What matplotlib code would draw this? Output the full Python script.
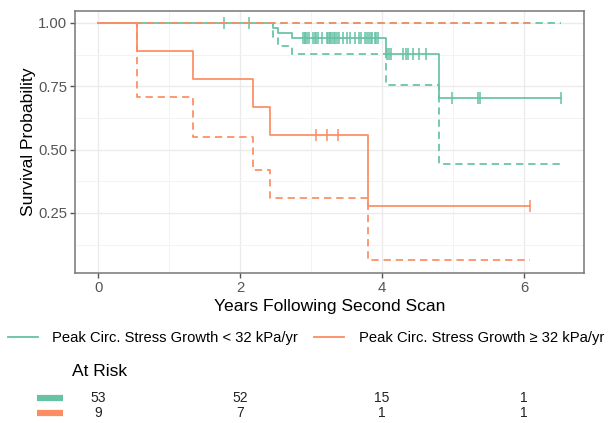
import numpy as np
import matplotlib
matplotlib.use("Agg")
import matplotlib.pyplot as plt
from matplotlib.lines import Line2D
from matplotlib.transforms import blended_transform_factory

plt.rcParams['font.family'] = ['Liberation Sans', 'DejaVu Sans']

# Kaplan-Meier curves (step starts, levels, 95% CI)
green_t = [0, 2.47, 2.53, 2.73, 4.05, 4.80]
green_s = [1.0, 0.980, 0.961, 0.941, 0.878, 0.703]
green_lo = [1.0, 0.943, 0.909, 0.879, 0.754, 0.442]
green_hi = [1.0, 1.0, 1.0, 1.0, 1.0, 1.0]
green_end = 6.52
green_cens = [1.78, 2.13,
              2.88, 2.91, 2.92, 2.94, 2.97, 3.03, 3.05, 3.07, 3.10, 3.15,
              3.22, 3.24, 3.26, 3.27, 3.29, 3.32, 3.34, 3.36, 3.40, 3.45,
              3.50, 3.55, 3.62, 3.67, 3.71, 3.76, 3.79, 3.81, 3.84, 3.86,
              3.90, 3.92, 3.94,
              4.07, 4.10, 4.13, 4.30, 4.34, 4.37, 4.44, 4.52, 4.62,
              4.99, 5.35, 5.38, 6.52]

orange_t = [0, 0.55, 1.34, 2.18, 2.42, 3.80]
orange_s = [1.0, 0.889, 0.778, 0.667, 0.556, 0.278]
orange_lo = [1.0, 0.706, 0.551, 0.421, 0.310, 0.063]
orange_hi = [1.0, 1.0, 1.0, 1.0, 1.0, 1.0]
orange_end = 6.08
orange_cens = [3.07, 3.22, 3.38, 6.08]

risk_times = [0, 2, 4, 6]
green_risk = [53, 52, 15, 1]
orange_risk = [9, 7, 1, 1]

labels = ["Peak Circ. Stress Growth < 32 kPa/yr",
          "Peak Circ. Stress Growth \u2265 32 kPa/yr"]
GREEN = "#66C2A5"
ORANGE = "#FC8D62"

W, H = 616, 423
fig = plt.figure(figsize=(W / 100, H / 100), dpi=100)
ax = fig.add_axes([75 / W, 1 - 273 / H, (584 - 75) / W, (273 - 11) / H])


def draw_curve(t, s, lo, hi, end, cens, color):
    xs = list(t) + [end]
    for vals, ls in ((hi, '--'), (lo, '--'), (s, '-')):
        ys = list(vals) + [vals[-1]]
        line, = ax.step(xs, ys, where='post', color=color, lw=1.25, linestyle=ls)
        if ls == '--':
            line.set_dashes((4.2, 2.8))
    idx = np.searchsorted(t, cens, side='right') - 1
    ax.plot(cens, np.array(s)[idx], linestyle='none', marker='|',
            markersize=8, mew=1.1, color=color)


draw_curve(green_t, green_s, green_lo, green_hi, green_end, green_cens, GREEN)
draw_curve(orange_t, orange_s, orange_lo, orange_hi, orange_end, orange_cens, ORANGE)

ax.set_xlim(-0.326, 6.846)
ax.set_ylim(0.013, 1.047)
ax.set_xticks([0, 2, 4, 6])
ax.set_xticks([1, 3, 5], minor=True)
ax.set_yticks([0.25, 0.5, 0.75, 1.0])
ax.set_yticks([0.125, 0.375, 0.625, 0.875], minor=True)
ax.set_yticklabels(["0.25", "0.50", "0.75", "1.00"])
ax.grid(True, which='major', color='#EBEBEB', lw=1.0)
ax.grid(True, which='minor', color='#F3F3F3', lw=0.7)
ax.set_axisbelow(True)
ax.tick_params(which='major', length=3.5, width=1.0, color='#555555',
               labelcolor='#555555', labelsize=10.7, pad=2)
ax.tick_params(which='minor', length=0)
for sp in ax.spines.values():
    sp.set_color('#777777')
    sp.set_linewidth(1.1)
ax.set_xlabel("Years Following Second Scan", fontsize=12.6, labelpad=3)
ax.set_ylabel("Survival Probability", fontsize=12.6, labelpad=1.5)

# legend
handles = [Line2D([], [], color=GREEN, lw=1.3), Line2D([], [], color=ORANGE, lw=1.3)]
fig.legend(handles, labels, ncol=2, loc='center', frameon=False,
           bbox_to_anchor=(306 / W, 1 - 338 / H), fontsize=10.6,
           handlelength=2.0, handletextpad=1.0, columnspacing=1.1,
           borderpad=0, borderaxespad=0)

# at-risk table
fig.text(72 / W, 1 - 371 / H, "At Risk", fontsize=12.5, va='center', ha='left')
ax_tab = fig.add_axes([75 / W, 1 - 420 / H, (584 - 75) / W, 30 / H])
ax_tab.set_xlim(ax.get_xlim())
ax_tab.set_ylim(-0.5, 1.5)
ax_tab.axis('off')
for row, (vals, color) in enumerate(((orange_risk, ORANGE), (green_risk, GREEN))):
    for t, v in zip(risk_times, vals):
        ax_tab.text(t, row, str(v), ha='center', va='center', fontsize=10, color='#222222')
    tr = blended_transform_factory(fig.transFigure, ax_tab.transData)
    ax_tab.plot([37 / W, 63 / W], [row, row], color=color, lw=4.5,
                transform=tr, clip_on=False, solid_capstyle='butt')

fig.savefig("out.png", dpi=100)
